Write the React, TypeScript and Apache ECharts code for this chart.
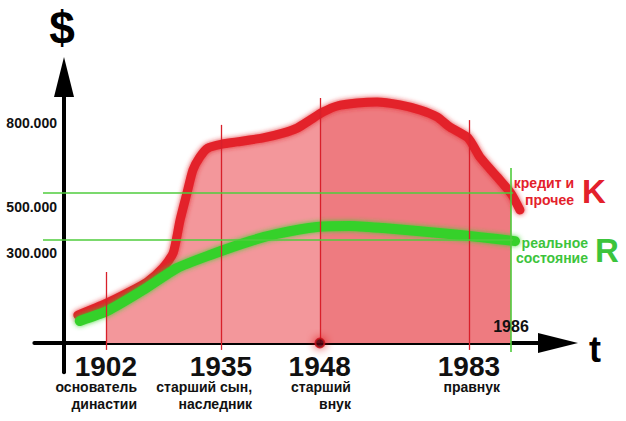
import React, { useEffect, useRef } from "react";
import * as echarts from "echarts";

const FONT = '"Liberation Sans", Arial, Helvetica, sans-serif';

// schematic time axis (0 = origin, 100 = end of axis) and schematic wealth axis
const years = ["1902", "1935", "1948", "1983"];
const yearPos = [8.5, 31.8, 51.8, 82.0];
const yearLineTop = [26.7, 82.0, 92.1, 83.8];
const yearNotes = [["основатель", "династии"], ["старший сын,", "наследник"], ["старший", "внук"], ["правнук"]];
const endYear = "1986";
const endYearPos = 90.5;

const yLabels = ["300.000", "500.000", "800.000"];
const yLabelPos = [33.8, 51.1, 82.7];
const guideLevels = [38.7, 56.4];

// K: credit and other (red)
const kCurve: [number, number][] = [
  [2.8, 10.5], [8.5, 14.9], [12.8, 18.8], [16.8, 22.9], [20.0, 28.2], [22.1, 33.8],
  [23.5, 46.2], [24.9, 56.4], [26.1, 65.0], [27.5, 69.9], [29.1, 73.3], [32.0, 74.8],
  [35.0, 75.6], [40.3, 77.1], [44.3, 78.9], [47.2, 80.8], [49.8, 83.8], [52.4, 86.8],
  [55.3, 89.1], [59.3, 90.2], [63.4, 90.6], [68.0, 89.5], [72.1, 87.6], [75.5, 85.0],
  [78.1, 81.2], [81.8, 77.1], [84.2, 69.9], [87.7, 62.4], [90.5, 56.2], [92.3, 50.0],
];
// R: real wealth (green)
const rCurve: [number, number][] = [
  [3.2, 8.3], [8.7, 12.0], [16.0, 19.9], [22.9, 28.2], [29.6, 33.1], [37.7, 38.3],
  [43.1, 41.0], [51.2, 43.6], [57.9, 44.0], [64.6, 43.2], [71.5, 42.1], [78.1, 41.0],
  [84.2, 39.8], [91.3, 38.3],
];

const RED = "#e3212b";
const GREEN = "#36d12a";
const GUIDE_GREEN = "#4fcc3c";
const LINE_RED = "#d8202a";

export default function App() {
  const ref = useRef<HTMLDivElement>(null);
  useEffect(() => {
    if (!ref.current) return;
    const chart = echarts.init(ref.current, undefined, { renderer: "svg" });

    const fillStart = yearPos[0];
    const fillEnd = endYearPos;
    const fillData = kCurve.filter((p) => p[0] >= fillStart && p[0] <= fillEnd);
    const split = (yearPos[2] - fillStart) / (fillEnd - fillStart);

    const verticals: any[] = yearPos.map((x, i) => [
      { coord: [x, yearLineTop[i]], lineStyle: { color: LINE_RED, width: 1.3, type: "solid" } },
      { coord: [x, i === 2 ? 0 : -2.6] },
    ]);
    verticals.push([
      { coord: [endYearPos, 65.8], lineStyle: { color: GUIDE_GREEN, width: 1.6, type: "solid" } },
      { coord: [endYearPos, -3.4] },
    ]);
    const horizontals: any[] = guideLevels.map((v) => [
      { coord: [-4.25, v], lineStyle: { color: GUIDE_GREEN, width: 1.6, type: "solid" } },
      { coord: [endYearPos + 0.4, v] },
    ]);

    const text = (t: string, x: number, y: number, size: number, fill: string, align = "center") => ({
      type: "text",
      x,
      y,
      z: 100,
      silent: true,
      style: {
        text: t,
        fill,
        font: `bold ${size}px ${FONT}`,
        align,
        verticalAlign: "middle",
      },
    });

    chart.setOption({
      animation: false,
      grid: { left: 34.36, top: 77, width: 523.64, height: 295.26, outerBoundsMode: "none" },
      xAxis: {
        type: "value",
        min: -6,
        max: 100,
        splitLine: { show: false },
        axisTick: { show: false },
        axisLine: {
          onZero: true,
          symbol: ["none", "triangle"],
          symbolSize: [20, 40],
          lineStyle: { color: "#000", width: 4 },
        },
        axisLabel: {
          customValues: yearPos,
          margin: -18.3,
          formatter: (v: number) => {
            let i = 0;
            yearPos.forEach((p, k) => {
              if (Math.abs(p - v) < Math.abs(yearPos[i] - v)) i = k;
            });
            return ["{y|" + years[i] + "}", ...yearNotes[i].map((n) => "{s|" + n + "}")].join("\n");
          },
          rich: {
            y: { fontSize: 28, fontWeight: "bold", fontFamily: FONT, color: "#111", lineHeight: 25, width: 62, align: "right" },
            s: { fontSize: 14, fontWeight: "bold", fontFamily: FONT, color: "#111", lineHeight: 17, width: 62, align: "right" },
          },
        },
      },
      yAxis: {
        type: "value",
        min: -11,
        max: 100,
        splitLine: { show: false },
        axisTick: { show: false },
        axisLine: {
          onZero: true,
          symbol: ["none", "triangle"],
          symbolSize: [20, 40],
          lineStyle: { color: "#000", width: 4 },
        },
        axisLabel: {
          customValues: yLabelPos,
          margin: -22.6,
          fontSize: 14,
          fontWeight: "bold",
          fontFamily: FONT,
          color: "#111",
          formatter: (v: number) => {
            let i = 0;
            yLabelPos.forEach((p, k) => {
              if (Math.abs(p - v) < Math.abs(yLabelPos[i] - v)) i = k;
            });
            return yLabels[i];
          },
        },
      },
      series: [
        {
          type: "line",
          name: "fill",
          z: 1,
          data: fillData,
          smooth: 0.2,
          showSymbol: false,
          silent: true,
          clip: false,
          lineStyle: { width: 0, opacity: 0 },
          areaStyle: {
            opacity: 1,
            color: new echarts.graphic.LinearGradient(0, 0, 1, 0, [
              { offset: 0, color: "#f3979b" },
              { offset: split, color: "#f3979b" },
              { offset: split, color: "#ee7b80" },
              { offset: 1, color: "#ee7b80" },
            ]),
          },
        },
        {
          type: "line",
          name: "K",
          z: 3,
          data: kCurve,
          smooth: 0.2,
          showSymbol: false,
          silent: true,
          clip: false,
          lineStyle: { color: RED, width: 9, cap: "round", join: "round", shadowBlur: 5, shadowColor: "rgba(227,33,43,0.9)" },
        },
        {
          type: "line",
          name: "R",
          z: 4,
          data: rCurve,
          smooth: 0.2,
          showSymbol: false,
          silent: true,
          clip: false,
          lineStyle: { color: GREEN, width: 10, cap: "round", join: "round", shadowBlur: 5, shadowColor: "rgba(54,209,42,0.9)" },
        },
        {
          type: "line",
          name: "guides",
          z: 5,
          data: [],
          silent: true,
          clip: false,
          markLine: {
            silent: true,
            symbol: ["none", "none"],
            label: { show: false },
            animation: false,
            data: [...verticals, ...horizontals],
          },
        },
        {
          type: "scatter",
          name: "dot",
          z: 6,
          data: [[yearPos[2], 0]],
          symbolSize: 9,
          silent: true,
          clip: false,
          itemStyle: {
            color: "#1a0505",
            borderColor: "#c8101c",
            borderWidth: 2,
            shadowBlur: 10,
            shadowColor: "rgba(225,0,20,1)",
          },
        },
      ],
      graphic: [
        text("$", 62, 28, 46, "#000"),
        text("t", 595, 349, 36, "#000"),
        text(endYear, 511, 326, 16, "#111"),
        text("кредит и", 574, 183, 14, RED, "right"),
        text("прочее", 574, 200, 14, RED, "right"),
        text("K", 594, 191, 33, RED),
        text("реальное", 588, 243, 14, "#3cc43c", "right"),
        text("состояние", 588, 258, 14, "#3cc43c", "right"),
        text("R", 607, 250, 33, "#3cc43c"),
      ],
    });
    return () => chart.dispose();
  }, []);
  return (
    <div
      ref={ref}
      style={{ position: "fixed", left: 0, top: 0, width: 626, height: 421, background: "#fff" }}
    />
  );
}
